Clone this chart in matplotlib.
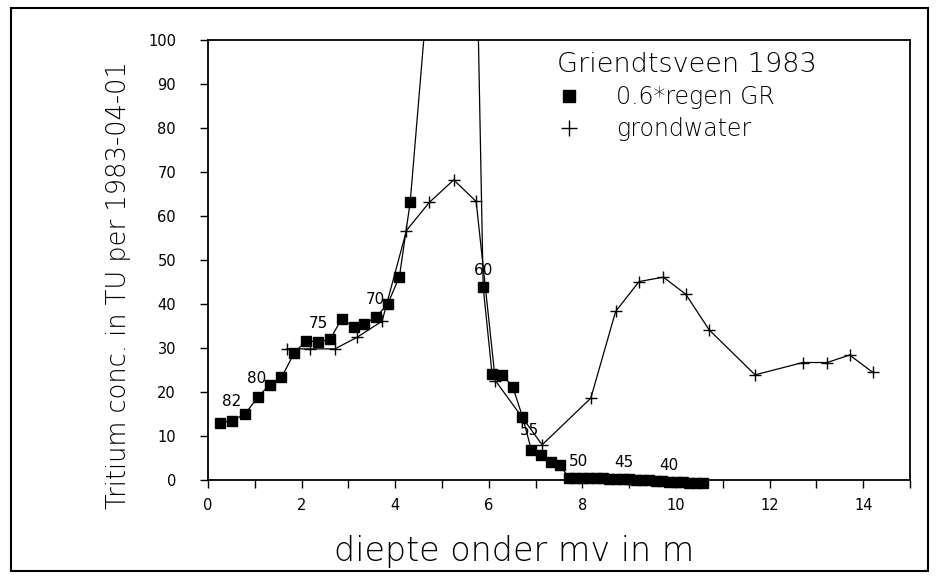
import matplotlib
matplotlib.use('Agg')
import numpy as np
import matplotlib.pyplot as plt
from matplotlib.lines import Line2D
from matplotlib.patches import Rectangle

# dunne letters voor de grote teksten, lijkt meer op plotterschrift
plt.rcParams['font.weight'] = 'light'
plt.rcParams['axes.labelweight'] = 'light'

# 0.6*regen GR (tritium in neerslag, verschoven naar diepte)
regen_x = [0.25, 0.52, 0.79, 1.07, 1.32, 1.57, 1.84, 2.09, 2.36, 2.61, 2.86,
           3.11, 3.34, 3.59, 3.84, 4.09, 4.32, 5.56, 5.88, 6.07, 6.29, 6.51,
           6.72, 6.91, 7.11, 7.32, 7.52,
           7.71, 7.85, 8.00, 8.14, 8.28, 8.43, 8.57, 8.71, 8.86, 9.00, 9.14,
           9.28, 9.43, 9.57, 9.71, 9.86, 10.00, 10.14, 10.28, 10.43, 10.58]
regen_y = [13.0, 13.5, 15.0, 18.9, 21.7, 23.3, 28.8, 31.6, 31.4, 32.0, 36.7,
           34.8, 35.5, 37.0, 40.0, 46.2, 63.1, 221.0, 43.8, 24.1, 23.9, 21.2,
           14.4, 6.8, 5.7, 4.0, 3.4,
           0.5, 0.5, 0.5, 0.4, 0.4, 0.4, 0.3, 0.3, 0.2, 0.2, 0.1,
           0.0, -0.1, -0.2, -0.3, -0.4, -0.5, -0.5, -0.6, -0.6, -0.6]

# grondwater metingen
grond_x = [1.68, 2.18, 2.71, 3.18, 3.72, 4.24, 4.73, 5.25, 5.73, 6.14, 7.14,
           8.18, 8.71, 9.21, 9.73, 10.21, 10.71, 11.69, 12.71, 13.23, 13.71, 14.2]
grond_y = [29.8, 29.8, 29.8, 32.4, 36.1, 56.7, 63.1, 68.2, 63.3, 22.6, 8.0,
           18.6, 38.3, 45.1, 46.1, 42.2, 34.1, 23.9, 26.7, 26.7, 28.4, 24.5]

# jaartallen langs de regenlijn
jaar_tekst = ['82', '80', '75', '70', '60', '55', '50', '45', '40']
jaar_x = [0.50, 1.04, 2.36, 3.57, 5.88, 6.86, 7.91, 8.89, 9.84]
jaar_y = [17.8, 23.1, 35.5, 41.1, 47.6, 11.2, 4.2, 3.9, 3.4]

fig = plt.figure(figsize=(9.36, 5.76), dpi=100)
ax = fig.add_axes([208 / 936, 96 / 576, 702 / 936, 440 / 576])

# lijn wordt afgekapt bij 100, blokjes rond 0 mogen buiten de as vallen
ax.plot(regen_x, regen_y, color='k', lw=0.9)
ax.plot(regen_x, regen_y, ls='none', marker='s', ms=6.5, color='k', clip_on=False)
ax.plot(grond_x, grond_y, color='k', lw=0.9, marker='+', ms=8, mew=1.0)

for t, x, y in zip(jaar_tekst, jaar_x, jaar_y):
    ax.text(x, y, t, ha='center', va='center', fontsize=11, fontweight='normal')

ax.set_xlim(0, 15)
ax.set_ylim(0, 100)
ax.set_xticks(np.arange(0, 15, 2))
ax.set_xticks(np.arange(1, 16, 2), minor=True)
ax.set_yticks(np.arange(0, 101, 10))
ax.tick_params(which='both', direction='out', length=6, width=1, top=False, right=False)
ax.tick_params(axis='y', pad=17, labelsize=10.5)
ax.tick_params(axis='x', pad=7, labelsize=10.5)
for lab in ax.get_xticklabels() + ax.get_yticklabels():
    lab.set_fontweight('normal')
for s in ax.spines.values():
    s.set_linewidth(1.3)

ax.set_xlabel('diepte onder mv in m', fontsize=24)
ax.set_ylabel('Tritium conc. in TU per 1983-04-01', fontsize=18.5)
ax.xaxis.set_label_coords(0.436, -0.163)
ax.xaxis.label.set_verticalalignment('center')
ax.yaxis.set_label_coords(-0.128, 0.443)
ax.yaxis.label.set_verticalalignment('center')

handles = [Line2D([], [], ls='none', marker='s', ms=9, color='k'),
           Line2D([], [], ls='none', marker='+', ms=11, mew=1.0, color='k')]
ax.legend(handles, ['0.6*regen GR', 'grondwater'], title='Griendtsveen 1983',
          loc='upper left', bbox_to_anchor=(0.48, 1.0), frameon=False,
          fontsize=17, title_fontsize=19.5, alignment='left', borderpad=0,
          handlelength=1.0, handletextpad=1.5, labelspacing=0.35)

fig.patches.append(Rectangle((11 / 936, 5 / 576), 917 / 936, 563 / 576,
                             transform=fig.transFigure, fill=False, lw=1.5, color='k'))

fig.savefig('out.png', dpi=100)
